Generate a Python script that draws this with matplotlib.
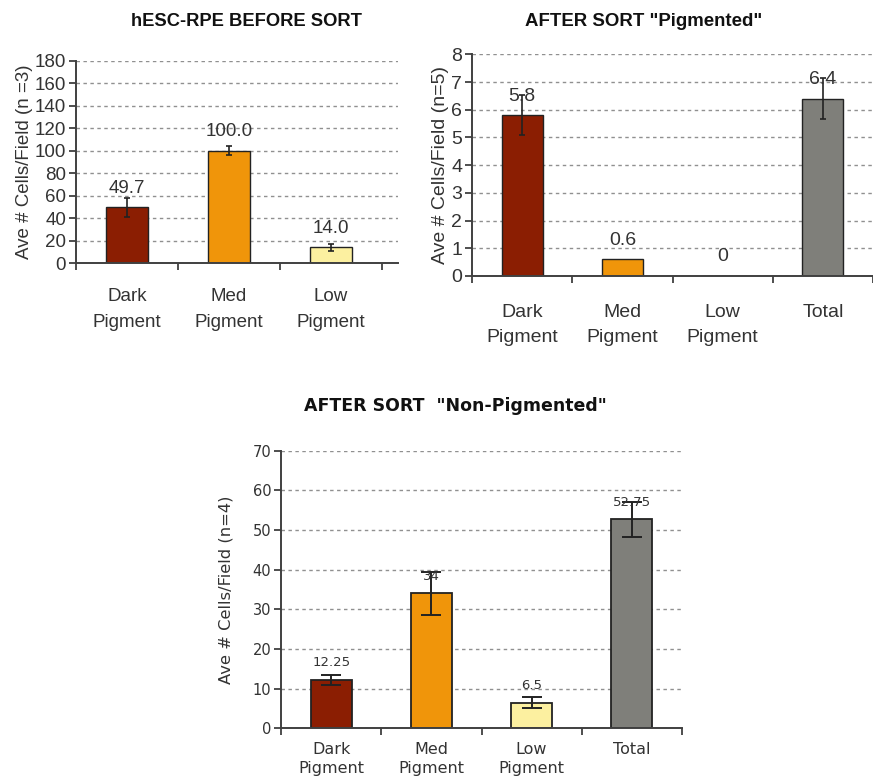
import matplotlib
matplotlib.use("Agg")
import matplotlib.pyplot as plt
import numpy as np

# ---- data ----
cats3 = ["Dark\nPigment", "Med\nPigment", "Low\nPigment"]
cats4 = ["Dark\nPigment", "Med\nPigment", "Low\nPigment", "Total"]

before_vals = [49.7, 100.0, 14.0]
before_err = [8.6, 4.0, 3.0]
before_labels = ["49.7", "100.0", "14.0"]

pig_vals = [5.8, 0.6, 0.0, 6.4]
pig_err = [0.72, 0.0, 0.0, 0.75]
pig_labels = ["5.8", "0.6", "0", "6.4"]

nonpig_vals = [12.25, 34.0, 6.5, 52.75]
nonpig_err = [1.2, 5.3, 1.3, 4.4]
nonpig_labels = ["12.25", "34", "6.5", "52.75"]

colors3 = ["#8B1E02", "#F0950A", "#FCF0A0"]
colors4 = ["#8B1E02", "#F0950A", "#FCF0A0", "#7F7F7A"]

fig = plt.figure(figsize=(8.73, 7.84), dpi=100)

def setup(ax, n, xright, yticks, ylabel, font, fs_tick, fs_xtick, fs_lab,
          xpad, ylabelpad, lsp):
    ax.set_xlim(-0.5, xright)
    ax.set_ylim(yticks[0], yticks[-1])
    ax.set_yticks(yticks)
    ax.set_xticks(np.arange(n))
    ax.set_xticklabels(cats4[:n] if n == 4 else cats3, fontfamily=font, fontsize=fs_xtick,
                       color="#333333", linespacing=lsp)
    ax.set_xticks(np.arange(-0.5, n, 1.0), minor=True)
    ax.tick_params(axis="x", which="major", length=0, pad=xpad)
    ax.tick_params(axis="x", which="minor", length=5, width=1.3, color="#404040", direction="out")
    ax.tick_params(axis="y", length=5, width=1.3, color="#404040", direction="out", pad=2)
    for lab in ax.get_yticklabels():
        lab.set_fontfamily(font)
        lab.set_fontsize(fs_tick)
        lab.set_color("#333333")
    for s in ["top", "right"]:
        ax.spines[s].set_visible(False)
    for s in ["left", "bottom"]:
        ax.spines[s].set_color("#404040")
        ax.spines[s].set_linewidth(1.4)
    ax.yaxis.grid(True, color="#909090", linestyle=(0, (2.5, 2.5)), linewidth=1.0)
    ax.set_axisbelow(True)
    ax.set_ylabel(ylabel, fontfamily=font, fontsize=fs_lab, color="#333333", labelpad=ylabelpad)

# ---- chart 1 ----
ax1 = fig.add_axes([0.087, 0.6645, 0.369, 0.2577])
x = np.arange(3)
ax1.bar(x, before_vals, width=0.41, color=colors3, edgecolor="#222222", linewidth=1.0, zorder=2)
ax1.errorbar(x, before_vals, yerr=before_err, fmt="none", ecolor="#222222", elinewidth=1.2,
             capsize=2.5, capthick=1.2, zorder=3)
for xi, v, t in zip(x, before_vals, before_labels):
    ax1.annotate(t, (xi, v), xytext=(0, 19), textcoords="offset pixels", ha="center", va="center",
                 fontfamily="Liberation Sans", fontsize=13.5, color="#333333", zorder=4)
setup(ax1, 3, 2.657, list(range(0, 181, 20)), "Ave # Cells/Field (n =3)",
      "Liberation Sans", 13.5, 13.5, 13.5, 18, 1, 1.7)
fig.text(0.2824, 0.972, "hESC-RPE BEFORE SORT", ha="center", va="center",
         fontfamily="Liberation Sans", fontsize=13.2, fontweight="bold", color="#111111")

# ---- chart 2 ----
ax2 = fig.add_axes([0.5407, 0.648, 0.4593, 0.2827])
x = np.arange(4)
ax2.bar(x, pig_vals, width=0.41, color=colors4, edgecolor="#222222", linewidth=1.0, zorder=2)
ax2.errorbar([0, 3], [pig_vals[0], pig_vals[3]], yerr=[pig_err[0], pig_err[3]], fmt="none",
             ecolor="#222222", elinewidth=1.2, capsize=2.5, capthick=1.2, zorder=3)
for xi, v, t in zip(x, pig_vals, pig_labels):
    ax2.annotate(t, (xi, v), xytext=(0, 19), textcoords="offset pixels", ha="center", va="center",
                 fontfamily="Liberation Sans", fontsize=14, color="#333333", zorder=4)
setup(ax2, 4, 3.47, list(range(0, 9)), "Ave # Cells/Field (n=5)",
      "Liberation Sans", 14, 14, 14, 20, 2, 1.6)
fig.text(0.7371, 0.972, "AFTER SORT \"Pigmented\"", ha="center", va="center",
         fontfamily="Liberation Sans", fontsize=13.4, fontweight="bold", color="#111111")

# ---- chart 3 ----
ax3 = fig.add_axes([0.3219, 0.071, 0.4593, 0.3541])
x = np.arange(4)
ax3.bar(x, nonpig_vals, width=0.41, color=colors4, edgecolor="#222222", linewidth=1.3, zorder=2)
ax3.errorbar(x, nonpig_vals, yerr=nonpig_err, fmt="none", ecolor="#222222", elinewidth=1.4,
             capsize=7.5, capthick=1.4, zorder=3)
for xi, v, t in zip(x, nonpig_vals, nonpig_labels):
    ax3.annotate(t, (xi, v), xytext=(0, 17), textcoords="offset pixels", ha="center", va="center",
                 fontfamily="DejaVu Sans", fontsize=9.5, color="#333333", zorder=4)
setup(ax3, 4, 3.5, list(range(0, 71, 10)), "Ave # Cells/Field (n=4)",
      "DejaVu Sans", 10.5, 11.5, 11.8, 10, 14, 1.3)
fig.text(0.5212, 0.482, "AFTER SORT  \"Non-Pigmented\"", ha="center", va="center",
         fontfamily="DejaVu Sans", fontsize=12.5, fontweight="bold", color="#111111")

fig.savefig("out.png", dpi=100)
